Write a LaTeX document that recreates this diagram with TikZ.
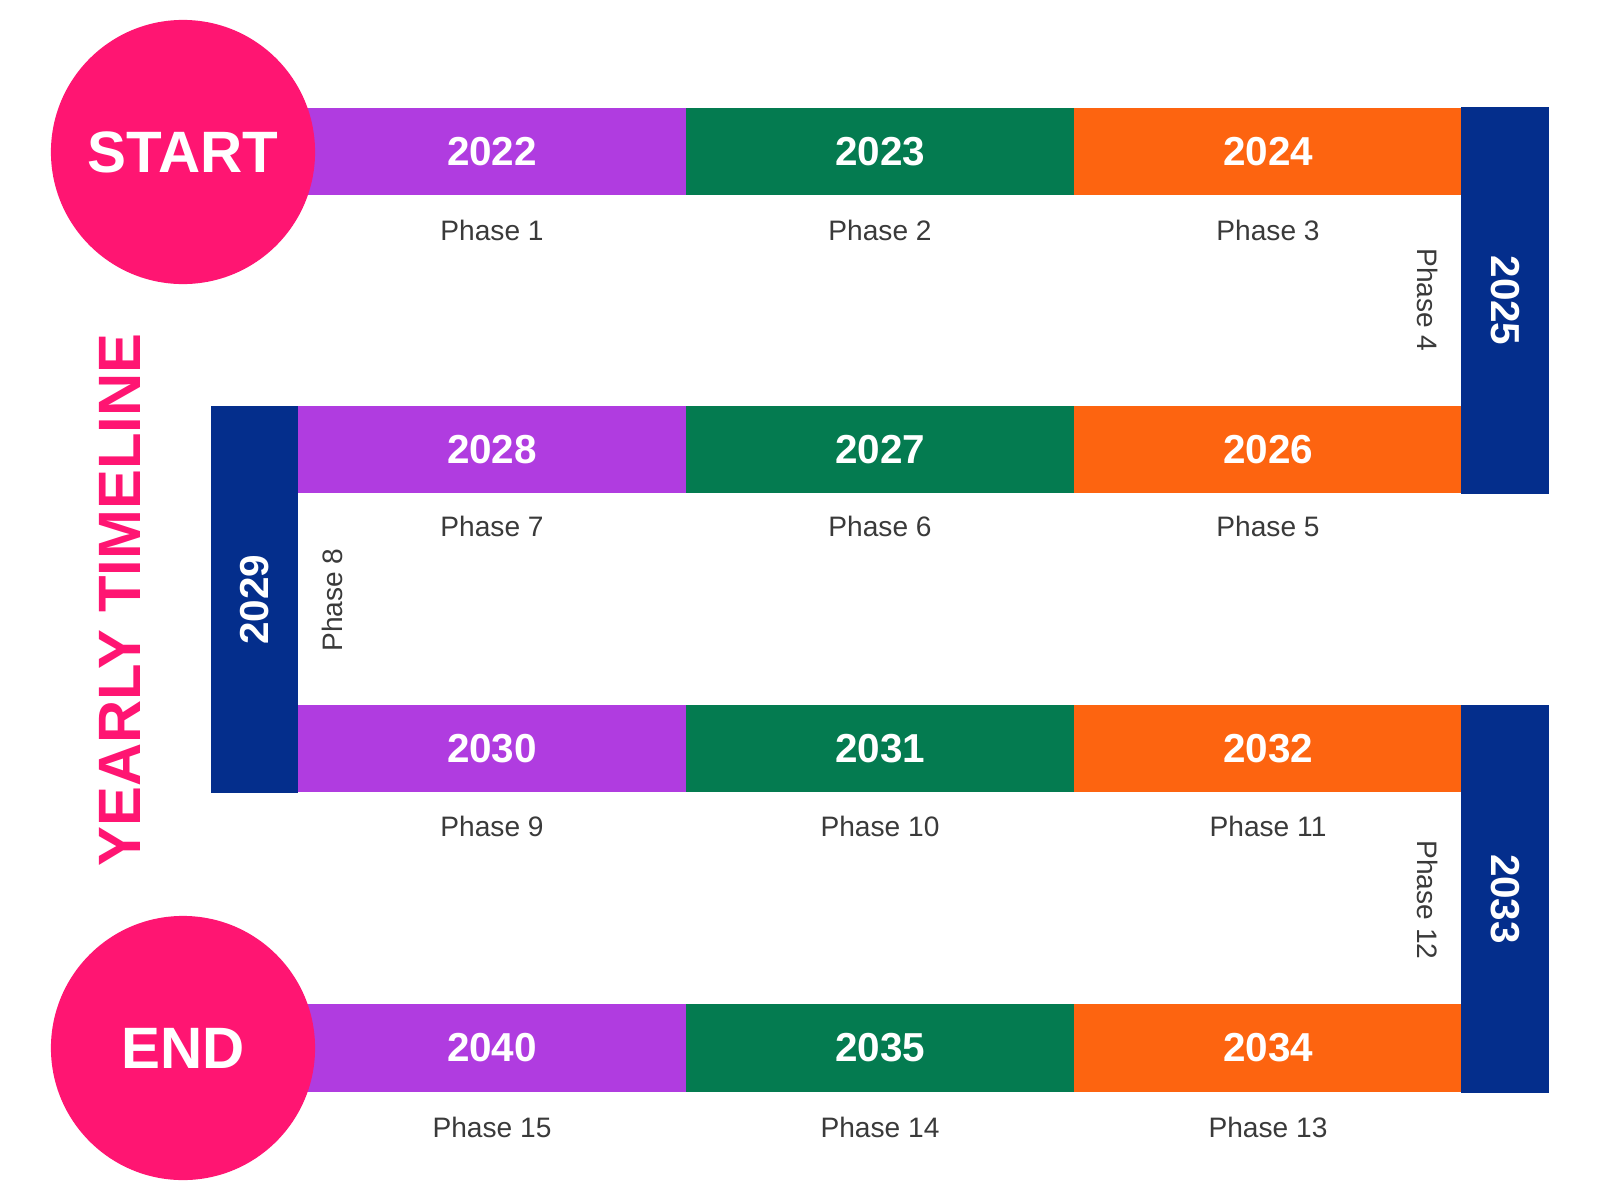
\documentclass[tikz,border=0pt]{standalone}
\usepackage{fontspec}
\setmainfont{Liberation Sans}

\definecolor{tlpink}{HTML}{FF1572}
\definecolor{tlpurple}{HTML}{B03CE0}
\definecolor{tlgreen}{HTML}{047B50}
\definecolor{tlorange}{HTML}{FD6410}
\definecolor{tlnavy}{HTML}{042E8C}
\definecolor{tlgray}{HTML}{3A3A3A}

\begin{document}
\begin{tikzpicture}[
		x=0.01cm,
		y=-0.01cm,
		yearbar/.style={
			rectangle,
			minimum width=3.88cm,
			minimum height=0.87cm,
			inner sep=0pt,
			text=white,
			font=\fontsize{11.5}{13}\selectfont\bfseries
		},
		yearpost/.style={
			rectangle,
			fill=tlnavy,
			minimum width=3.87cm,
			minimum height=0.87cm,
			inner sep=0pt,
			text=white,
			font=\fontsize{11.5}{13}\selectfont\bfseries
		},
		phase/.style={
			text=tlgray,
			inner sep=0pt,
			font=\fontsize{8}{10}\selectfont
		},
		endpoint/.style={
			circle,
			fill=tlpink,
			minimum size=2.64cm,
			inner sep=0pt,
			text=white,
			font=\fontsize{16.6}{20}\selectfont\bfseries
		}
		]
		\useasboundingbox (0,0) rectangle (1600,1200);

		% first row
		\node[yearbar,fill=tlpurple] (y2022) at (492,151.5) {2022};
		\node[yearbar,fill=tlgreen] (y2023) at (880,151.5) {2023};
		\node[yearbar,fill=tlorange] (y2024) at (1268,151.5) {2024};

		% second row
		\node[yearbar,fill=tlpurple] (y2028) at (492,449.5) {2028};
		\node[yearbar,fill=tlgreen] (y2027) at (880,449.5) {2027};
		\node[yearbar,fill=tlorange] (y2026) at (1268,449.5) {2026};

		% third row
		\node[yearbar,fill=tlpurple] (y2030) at (492,748.5) {2030};
		\node[yearbar,fill=tlgreen] (y2031) at (880,748.5) {2031};
		\node[yearbar,fill=tlorange] (y2032) at (1268,748.5) {2032};

		% last row
		\node[yearbar,fill=tlpurple] (y2040) at (492,1048) {2040};
		\node[yearbar,fill=tlgreen] (y2035) at (880,1048) {2035};
		\node[yearbar,fill=tlorange] (y2034) at (1268,1048) {2034};

		% turns
		\node[yearpost,rotate=-90] (y2025) at (1505,300.5) {2025};
		\node[yearpost,rotate=90] (y2029) at (254.5,599.5) {2029};
		\node[yearpost,rotate=-90] (y2033) at (1505,899) {2033};

		\node[endpoint] (start) at (183,152) {START};
		\node[endpoint] (finish) at (183,1048) {END};

		\node[rotate=90,
			  inner sep=0pt,
			  text=tlpink,
			  font=\fontsize{17}{20}\selectfont\bfseries] (title) at (120,600) {YEARLY TIMELINE};

		% phases
		\node[phase] (p1) at (492,230) {Phase 1};
		\node[phase] (p2) at (880,230) {Phase 2};
		\node[phase] (p3) at (1268,230) {Phase 3};
		\node[phase,rotate=-90] (p4) at (1428,300) {Phase 4};
		\node[phase] (p5) at (1268,526) {Phase 5};
		\node[phase] (p6) at (880,526) {Phase 6};
		\node[phase] (p7) at (492,526) {Phase 7};
		\node[phase,rotate=90] (p8) at (332,600) {Phase 8};
		\node[phase] (p9) at (492,826) {Phase 9};
		\node[phase] (p10) at (880,826) {Phase 10};
		\node[phase] (p11) at (1268,826) {Phase 11};
		\node[phase,rotate=-90] (p12) at (1428,900) {Phase 12};
		\node[phase] (p13) at (1268,1127) {Phase 13};
		\node[phase] (p14) at (880,1127) {Phase 14};
		\node[phase] (p15) at (492,1127) {Phase 15};
		\end{tikzpicture}
\end{document}
